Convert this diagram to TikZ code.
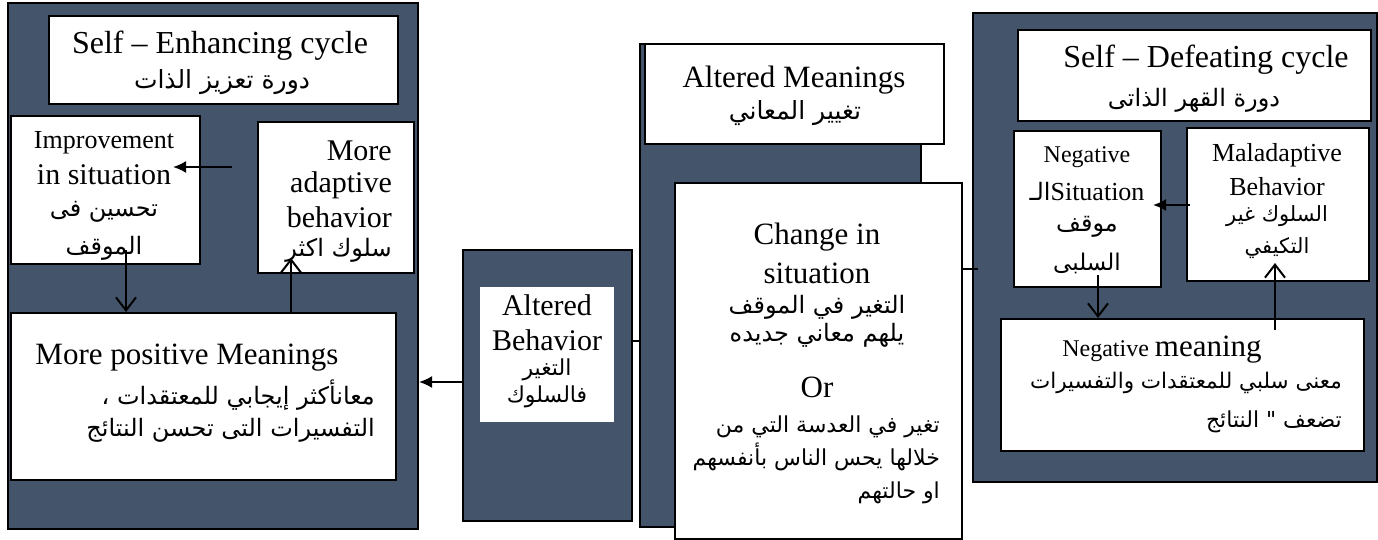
\documentclass[tikz,border=0pt]{standalone}
\usepackage{fontspec}
\setmainfont{Liberation Serif}
\newfontfamily\arabicfont[Script=Arabic]{DejaVu Sans}
\TeXXeTstate=1
\usetikzlibrary{arrows.meta}
\definecolor{panelblue}{HTML}{44546A}
\newcommand\fsz[1]{\fontsize{#1}{#1}\selectfont}
\newcommand\arf[1]{\arabicfont\fsz{#1}}
\begin{document}
\begin{tikzpicture}[x=1pt,y=-1pt,
  panel/.style={draw=black, line width=2pt, fill=panelblue, inner sep=0pt, anchor=north west},
  wbox/.style={draw=black, line width=2pt, fill=white, inner sep=0pt, anchor=north west},
  plainbox/.style={fill=white, inner sep=0pt, anchor=north west},
  lbl/.style={inner sep=0pt, anchor=center},
  rlbl/.style={inner sep=0pt, anchor=east},
  farrow/.style={line width=2pt, -{Latex[length=13pt,width=12pt]}},
  oarrow/.style={line width=2pt, -{Straight Barb[length=13pt,width=20pt]}},
  tick/.style={line width=2pt}]
\useasboundingbox (0,0) rectangle (1378,540);

% ---------- left panel ----------
\node[panel, minimum width=410pt, minimum height=526pt] (lpanel) at (7,2) {};
\node[wbox, minimum width=349pt, minimum height=88pt] (ltitle) at (48,15) {};
\node[wbox, minimum width=189pt, minimum height=148pt] (imp) at (10,115) {};
\node[wbox, minimum width=156pt, minimum height=151pt] (adapt) at (257,121) {};
\node[wbox, minimum width=385pt, minimum height=167pt] (posm) at (10,312) {};

\node[lbl] (lt1) at (220,46) {\fsz{32}Self -- Enhancing cycle};
\node[lbl] (lt2) at (222,82) {\arf{25}\beginR دورة تعزيز الذات\endR};

\node[lbl] (im1) at (104,143) {\fsz{26}Improvement};
\node[lbl] (im2) at (104,175) {\fsz{30}in situation};
\node[lbl] (im3) at (104,212) {\arf{24}\beginR تحسين فى\endR};
\node[lbl] (im4) at (104,248) {\arf{24}\beginR الموقف\endR};

\node[rlbl] (ad1) at (392,151) {\fsz{30}More};
\node[rlbl] (ad2) at (392,185) {\fsz{30}adaptive};
\node[rlbl] (ad3) at (392,217) {\fsz{30}behavior};
\node[rlbl] (ad4) at (392,250) {\arf{24}\beginR سلوك اكثر\endR};

\node[lbl] (pm1) at (187,358) {\fsz{31}More positive Meanings};
\node[rlbl] (pm2) at (375,395) {\arf{24}\beginR معانأكثر إيجابي للمعتقدات ،\endR};
\node[rlbl] (pm3) at (375,430) {\arf{24}\beginR التفسيرات التى  تحسن النتائج\endR};

% ---------- altered behavior ----------
\node[panel, minimum width=169pt, minimum height=271pt] (abeh) at (462,249) {};
\node[plainbox, minimum width=134pt, minimum height=135pt] (abehw) at (480,287) {};
\node[lbl] (ab1) at (547,305) {\fsz{30}Altered};
\node[lbl] (ab2) at (547,340) {\fsz{30}Behavior};
\node[lbl] (ab3) at (547,370) {\arf{22}\beginR التغير\endR};
\node[lbl] (ab4) at (547,397) {\arf{22}\beginR فالسلوك\endR};

% ---------- middle panel ----------
\node[panel, minimum width=281pt, minimum height=483pt] (mpanel) at (639,43) {};
\node[wbox, minimum width=299pt, minimum height=100pt] (amean) at (644,43) {};
\node[wbox, minimum width=287pt, minimum height=356pt] (change) at (674,182) {};

\node[lbl] (am1) at (794,80) {\fsz{31}Altered Meanings};
\node[lbl] (am2) at (795,113) {\arf{25}\beginR تغيير المعاني\endR};

\node[lbl] (ch1) at (817,237) {\fsz{31}Change in};
\node[lbl] (ch2) at (817,273) {\fsz{31}situation};
\node[lbl] (ch3) at (817,307) {\arf{24}\beginR التغير في الموقف\endR};
\node[lbl] (ch4) at (817,335) {\arf{24}\beginR يلهم معاني جديده\endR};
\node[lbl] (ch5) at (817,387) {\fsz{31}Or};
\node[rlbl] (ch6) at (940,427) {\arf{22}\beginR تغير في العدسة التي من\endR};
\node[rlbl] (ch7) at (940,457) {\arf{22}\beginR خلالها يحس الناس بأنفسهم\endR};
\node[rlbl] (ch8) at (940,493) {\arf{22}\beginR او حالتهم\endR};

% ---------- right panel ----------
\node[panel, minimum width=404pt, minimum height=469pt] (rpanel) at (972,12) {};
\node[wbox, minimum width=353pt, minimum height=91pt] (rtitle) at (1017,29) {};
\node[wbox, minimum width=147pt, minimum height=156pt] (negsit) at (1013,130) {};
\node[wbox, minimum width=182pt, minimum height=153pt] (malad) at (1186,127) {};
\node[wbox, minimum width=363pt, minimum height=132pt] (negm) at (1000,318) {};

\node[lbl] (rt1) at (1206,60) {\fsz{32}Self -- Defeating cycle};
\node[lbl] (rt2) at (1194,100) {\arf{24}\beginR دورة القهر الذاتى\endR};

\node[lbl] (ns1) at (1087,157) {\fsz{24}Negative};
\node[lbl] (ns2) at (1087,192) {{\arf{24}\beginR الـ\endR}\fsz{26}Situation};
\node[lbl] (ns3) at (1087,227) {\arf{24}\beginR موقف\endR};
\node[lbl] (ns4) at (1087,263) {\arf{23}\beginR السلبى\endR};

\node[lbl] (ma1) at (1277,155) {\fsz{26}Maladaptive};
\node[lbl] (ma2) at (1277,187) {\fsz{26}Behavior};
\node[lbl] (ma3) at (1277,216) {\arf{21}\beginR السلوك غير\endR};
\node[lbl] (ma4) at (1277,248) {\arf{21}\beginR التكيفي\endR};

\node[lbl] (nm1) at (1162,350) {\fsz{24}Negative \fsz{31}meaning};
\node[rlbl] (nm2) at (1342,383) {\arf{21.5}\beginR معنى سلبي للمعتقدات والتفسيرات\endR};
\node[rlbl] (nm3) at (1342,422) {\arf{22}\beginR تضعف "  النتائج\endR};

% ---------- connectors ----------
\coordinate (a1s) at (232,167);
\coordinate (a1e) at (173,167);
\draw[farrow] (a1s) -- (a1e);
\coordinate (d1) at (126,250);
\draw[oarrow] (d1) -- (d1 |- posm.north);
\coordinate (u1) at (291,258);
\draw[oarrow] (u1 |- posm.north) -- (u1);
\coordinate (b1) at (463,382);
\draw[farrow] (b1) -- (b1 -| lpanel.east);
\coordinate (t1) at (0,341);
\draw[tick] (t1 -| abeh.east) -- (t1 -| mpanel.west);
\coordinate (t2) at (978,269);
\draw[tick] (t2 -| change.east) -- (t2);
\coordinate (m1) at (1190,205);
\coordinate (m2) at (1153,205);
\draw[farrow] (m1) -- (m2);
\coordinate (d2) at (1098,275);
\draw[oarrow] (d2) -- (d2 |- negm.north);
\coordinate (u2s) at (1275,330);
\coordinate (u2e) at (1275,263);
\draw[oarrow] (u2s) -- (u2e);
\end{tikzpicture}
\end{document}
